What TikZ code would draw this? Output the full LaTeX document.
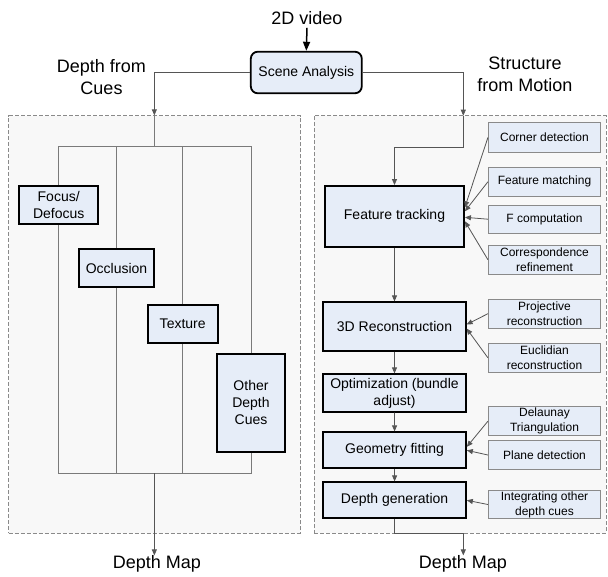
\documentclass[tikz,border=0pt]{standalone}
\usepackage{fontspec}
\setmainfont{Liberation Sans}
\usetikzlibrary{arrows.meta,calc}
\definecolor{boxfill}{HTML}{E6EDF8}
\definecolor{panelfill}{HTML}{F8F8F8}
\definecolor{conncol}{HTML}{555555}
\definecolor{treecol}{HTML}{7A7A7A}
\definecolor{smallborder}{HTML}{8A8A8A}
\begin{document}
\begin{tikzpicture}[x=1pt,y=-1pt,
 mainbox/.style={draw=black, line width=1.8pt, fill=boxfill, inner sep=0pt, align=center, font=\fontsize{14}{17}\selectfont},
 smallbox/.style={draw=smallborder, line width=0.8pt, fill=boxfill, inner sep=0pt, align=center, font=\fontsize{12}{15}\selectfont, minimum width=112.4pt},
 panel/.style={draw=smallborder, dash pattern=on 4pt off 2pt, line width=0.7pt, fill=panelfill, inner sep=0pt},
 biglabel/.style={inner sep=0pt, align=center, font=\fontsize{18}{22}\selectfont},
 connline/.style={draw=conncol, line width=0.8pt},
 arr/.style={connline, -{Triangle[length=6pt,width=5pt]}},
 treeline/.style={draw=treecol, line width=0.9pt},
]
\useasboundingbox (0,0) rectangle (608,576);
\fill[white] (0,0) rectangle (608,576);

% panels
\node[panel, minimum width=291.3pt, minimum height=417.3pt] (lp) at (154.35,324.35) {};
\node[panel, minimum width=292pt, minimum height=417.3pt] (rp) at (460,324.35) {};

% titles
\node[biglabel] (vid) at (307,18) {2D video};
\node[mainbox, rounded corners=7pt, minimum width=111pt, minimum height=41.6pt] (sa) at (306.3,72.5) {Scene Analysis};
\node[biglabel] (dfc) at (101.5,77.5) {Depth from\\Cues};
\node[biglabel] (sfm) at (525,74) {Structure\\from Motion};
\node[biglabel] (dml) at (157,564) {Depth Map};
\node[biglabel] (dmr) at (463,564) {Depth Map};

% left column boxes
\node[mainbox, minimum width=79.3pt, minimum height=38.3pt] (fd) at (58.7,204.8) {Focus/\\Defocus};
\node[mainbox, minimum width=75.6pt, minimum height=38.3pt] (oc) at (116.5,268.2) {Occlusion};
\node[mainbox, minimum width=70pt, minimum height=38.3pt] (tx) at (182.7,324.2) {Texture};
\node[mainbox, minimum width=68pt, minimum height=97.7pt] (od) at (251,402.8) {Other\\Depth\\Cues};

% right column boxes
\node[mainbox, minimum width=139pt, minimum height=60.7pt] (ft) at (394.5,216.3) {Feature tracking};
\node[mainbox, minimum width=142.4pt, minimum height=48.4pt] (rc) at (394.5,326.5) {3D Reconstruction};
\node[mainbox, minimum width=142.4pt, minimum height=37.4pt] (op) at (394.5,393) {Optimization (bundle\\adjust)};
\node[mainbox, minimum width=142.7pt, minimum height=36pt] (gf) at (394.6,450.3) {Geometry fitting};
\node[mainbox, minimum width=142.7pt, minimum height=36pt] (dg) at (394.6,500.3) {Depth generation};

% small boxes
\node[smallbox, minimum height=29.6pt] (cd) at (544.5,137.5) {Corner detection};
\node[smallbox, minimum height=28.3pt] (fm) at (544.5,181.8) {Feature matching};
\node[smallbox, minimum height=28.3pt] (fc) at (544.5,219.2) {F computation};
\node[smallbox, minimum height=28.7pt] (cr) at (544.5,259.7) {Correspondence\\refinement};
\node[smallbox, minimum height=28.7pt] (pr) at (544.5,313.7) {Projective\\reconstruction};
\node[smallbox, minimum height=29pt] (eu) at (544.5,357.8) {Euclidian\\reconstruction};
\node[smallbox, minimum height=29pt] (de) at (544.5,421.2) {Delaunay\\Triangulation};
\node[smallbox, minimum height=28.6pt] (pd) at (544.5,455) {Plane detection};
\node[smallbox, minimum height=28.4pt] (ig) at (544.5,504.5) {Integrating other\\depth cues};

% coordinates
\coordinate (lt) at (154.35,146);
\coordinate (lb) at (154.35,473.3);
\coordinate (rin) at (463.3,115.7);
\coordinate (rbend) at (463.3,147.3);
\coordinate (rout) at (463.3,533);

% top connectors
\draw[line width=1.5pt, -{Triangle[length=9pt,width=7pt]}] ([yshift=-3pt]vid.south) -- (sa.north);
\draw[arr] (sa.west) -| (lp.north);
\draw[arr] (sa.east) -| (rin);

% left tree
\draw[treeline] (lp.north) -- (lt);
\draw[treeline] (fd.north) -- (fd.north |- lt) -- (od.north |- lt) -- (od.north);
\draw[treeline] (oc.north) -- (oc.north |- lt);
\draw[treeline] (tx.north) -- (tx.north |- lt);
\draw[treeline] (fd.south) -- (fd.south |- lb) -- (od.south |- lb) -- (od.south);
\draw[treeline] (oc.south) -- (oc.south |- lb);
\draw[treeline] (tx.south) -- (tx.south |- lb);
\draw[arr] (lb) -- (lb |- dml.north);

% right chain
\draw[arr] (rin) -- (rbend) -| (ft.north);
\draw[arr] (ft.south) -- (rc.north);
\draw[arr] (rc.south) -- (op.north);
\draw[arr] (op.south) -- (gf.north);
\draw[arr] (gf.south) -- (dg.north);
\draw[connline] (dg.south) |- (rout);
\draw[arr] (rout) -- (rout |- dmr.north);

% side inputs
\draw[arr] (cd.west) -- ([yshift=9pt]ft.east);
\draw[arr] (fm.west) -- ([yshift=5pt]ft.east);
\draw[arr] (fc.west) -- ([yshift=-1pt]ft.east);
\draw[arr] (cr.west) -- ([yshift=-5pt]ft.east);
\draw[arr] (pr.west) -- ([yshift=2pt]rc.east);
\draw[arr] (eu.west) -- ([yshift=-2pt]rc.east);
\draw[arr] (de.west) -- ([yshift=3.5pt]gf.east);
\draw[arr] (pd.west) -- (gf.east);
\draw[arr] (ig.west) -- (dg.east);
\end{tikzpicture}
\end{document}
